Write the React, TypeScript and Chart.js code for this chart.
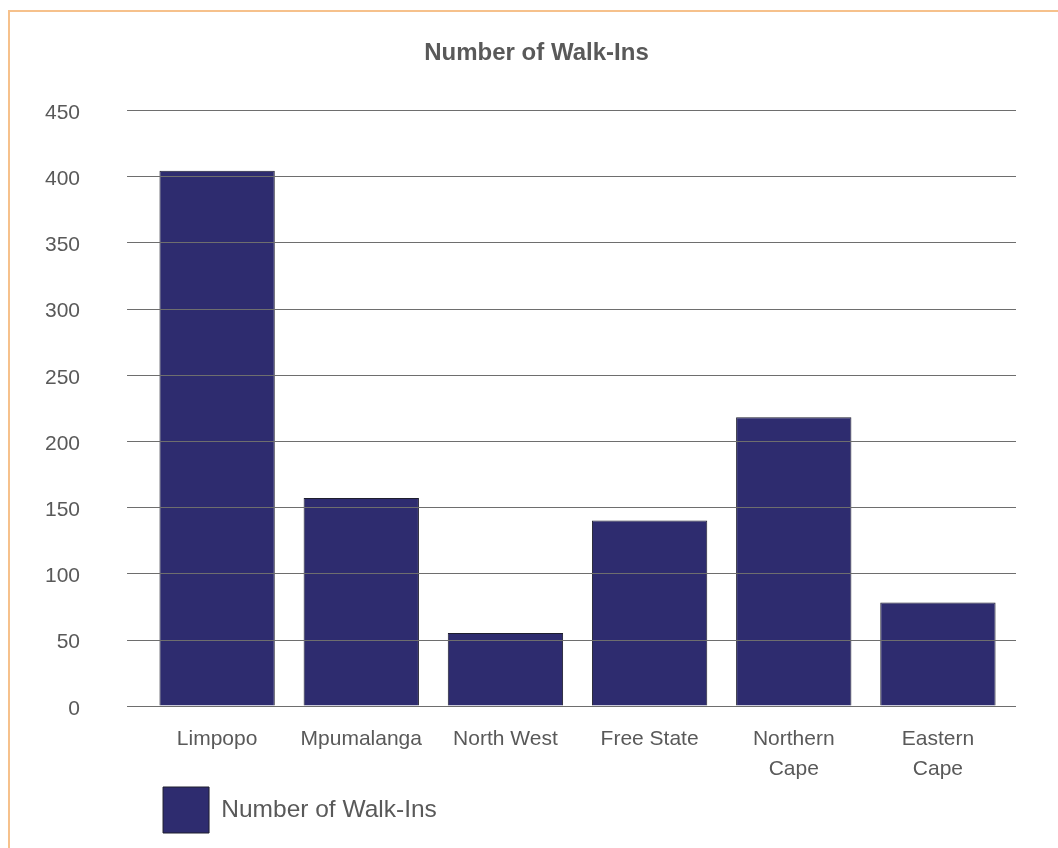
import React, { useEffect, useRef } from "react";
import { Chart, registerables } from "chart.js";

Chart.register(...registerables);

const categories: (string | string[])[] = [
  "Limpopo",
  "Mpumalanga",
  "North West",
  "Free State",
  ["Northern", "Cape"],
  ["Eastern", "Cape"],
];
const walkIns: number[] = [404, 157, 55, 140, 218, 78];
const seriesLabel = "Number of Walk-Ins";
const chartTitle = "Number of Walk-Ins";
const yMin = 0;
const yMax = 450;
const yStep = 50;

const FONT = "'Liberation Sans', Arial, Helvetica, sans-serif";
const TEXT = "#595959";

const gridOverlay = {
  id: "gridOverlay",
  afterDatasetsDraw(chart: any) {
    const { ctx, chartArea } = chart;
    const y = chart.scales.y;
    ctx.save();
    ctx.strokeStyle = "#6e6e6e";
    ctx.lineWidth = 1.2;
    y.ticks.forEach((t: any) => {
      const py = Math.round(y.getPixelForValue(t.value)) + 0.5;
      ctx.beginPath();
      ctx.moveTo(chartArea.left - 18, py);
      ctx.lineTo(chartArea.right + 6, py);
      ctx.stroke();
    });
    ctx.restore();
  },
};

const blockPlace = {
  id: "blockPlace",
  afterLayout(chart: any) {
    const l = chart.legend;
    if (l) {
      const w = l.right - l.left;
      const h = l.bottom - l.top;
      l.left = chart.chartArea.left + 13;
      l.right = l.left + w;
      l.top = chart.scales.x.bottom - 2;
      l.bottom = l.top + h;
    }
    const t = chart.titleBlock;
    if (t) {
      t.left += 9;
      t.right += 9;
    }
  },
};

export default function App() {
  const ref = useRef<HTMLCanvasElement | null>(null);
  useEffect(() => {
    if (!ref.current) return;
    const chart = new Chart(ref.current, {
      type: "bar",
      data: {
        labels: categories,
        datasets: [
          {
            label: seriesLabel,
            data: walkIns,
            backgroundColor: "#2E2C6F",
            borderColor: "#1E1E2E",
            borderWidth: 1,
            barPercentage: 0.8,
            categoryPercentage: 1,
          },
        ],
      },
      options: {
        animation: false,
        responsive: true,
        maintainAspectRatio: false,
        layout: { padding: { left: 35, right: 48, top: 0, bottom: 3 } },
        plugins: {
          title: {
            display: true,
            text: chartTitle,
            color: TEXT,
            font: { family: FONT, size: 24, weight: "bold" },
            padding: { top: 27, bottom: 42 },
          },
          legend: {
            display: true,
            position: "bottom",
            align: "start",
            labels: {
              boxWidth: 46,
              boxHeight: 46,
              padding: 5,
              color: TEXT,
              font: { family: FONT, size: 24.5 },
            },
          },
          tooltip: { enabled: false },
        },
        scales: {
          x: {
            grid: {
              display: true,
              drawOnChartArea: false,
              drawTicks: true,
              tickLength: 18,
              color: "rgba(0,0,0,0)",
            },
            border: { display: false },
            ticks: {
              color: TEXT,
              font: { family: FONT, size: 21, lineHeight: 1.43 },
              padding: 0,
              maxRotation: 0,
              autoSkip: false,
            },
          },
          y: {
            min: yMin,
            max: yMax,
            grid: {
              display: true,
              drawOnChartArea: false,
              drawTicks: true,
              tickLength: 65,
              color: "rgba(0,0,0,0)",
            },
            border: { display: false },
            ticks: {
              stepSize: yStep,
              color: TEXT,
              font: { family: FONT, size: 21 },
              padding: 0,
              labelOffset: 3,
            },
          },
        },
      },
      plugins: [gridOverlay, blockPlace],
    });
    return () => chart.destroy();
  }, []);

  return (
    <div
      style={{
        position: "fixed",
        left: 8,
        top: 10,
        width: 1050,
        height: 838,
        borderTop: "2px solid #F6C18C",
        borderLeft: "2px solid #F6C18C",
        boxSizing: "border-box",
        background: "#fff",
      }}
    >
      <div style={{ position: "relative", width: 1048, height: 836 }}>
        <canvas ref={ref} />
      </div>
    </div>
  );
}
